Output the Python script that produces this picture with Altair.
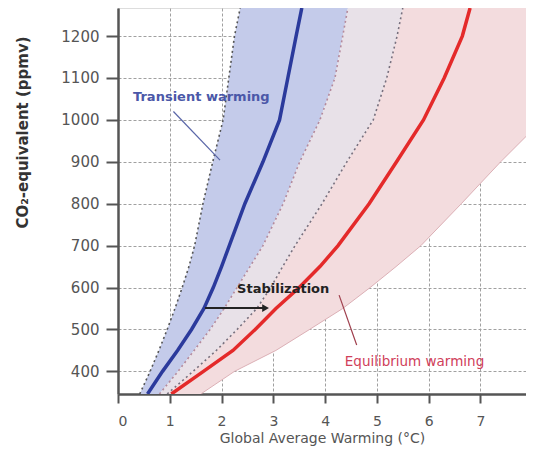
import altair as alt
import pandas as pd

# CO2-equivalent concentration levels (ppmv) at which the curves were read
ppm = [346, 400, 450, 500, 550, 600, 650, 700, 800, 900, 1000, 1100, 1200, 1267]

# Warming (deg C)
transient_lower = [0.42, 0.62, 0.79, 0.95, 1.10, 1.24, 1.37, 1.48, 1.64, 1.83, 2.03, 2.14, 2.25, 2.36]
transient_central = [0.57, 0.86, 1.15, 1.42, 1.66, 1.84, 2.00, 2.15, 2.45, 2.80, 3.12, 3.28, 3.44, 3.55]
equilibrium_lower = [0.80, 1.16, 1.47, 1.78, 2.05, 2.30, 2.55, 2.80, 3.19, 3.51, 3.90, 4.19, 4.34, 4.44]
transient_upper = [0.95, 1.45, 1.90, 2.30, 2.68, 2.95, 3.18, 3.42, 3.94, 4.42, 4.93, 5.19, 5.39, 5.50]
equilibrium_central = [1.03, 1.65, 2.22, 2.65, 3.05, 3.50, 3.90, 4.25, 4.85, 5.38, 5.90, 6.30, 6.65, 6.80]
equilibrium_upper = [1.60, 2.25, 3.05, 3.70, 4.34, 4.87, 5.37, 5.85, 6.63, 7.39, 8.20, 8.90, 9.60, 10.10]

x_ticks = [0, 1, 2, 3, 4, 5, 6, 7]
y_ticks = [400, 500, 600, 700, 800, 900, 1000, 1100, 1200]

# annotation content
stab_ppm = [551]
stab_from = [1.68]
stab_to = [2.85]
transient_label = ["Transient warming"]
transient_label_pos = [0.29, 1055]
transient_leader = [[1.07, 1020], [1.97, 904]]
stab_label = ["Stabilization"]
stab_label_pos = [2.3, 597]
equil_label = ["Equilibrium warming"]
equil_label_pos = [4.38, 422]
equil_leader = [[4.61, 463], [4.27, 582]]

FONT = "DejaVu Sans"

df = pd.DataFrame({
    "ppm": ppm,
    "tl": transient_lower,
    "tc": transient_central,
    "el": equilibrium_lower,
    "tu": transient_upper,
    "ec": equilibrium_central,
    "eu": equilibrium_upper,
})

xs = alt.Scale(domain=[0, 7.88], nice=False, zero=False)
ys = alt.Scale(domain=[346, 1267], nice=False, zero=False)

xaxis = alt.Axis(values=x_ticks, title="Global Average Warming (°C)", format="d",
                 grid=True, gridColor="#a0a0a0", gridDash=[3, 2], gridWidth=1,
                 domainColor="#555", domainWidth=2.5, tickColor="#555", tickWidth=2,
                 tickSize=9, labelPadding=11, labelFont=FONT, labelFontSize=14,
                 labelColor="#555", titleFont=FONT, titleFontSize=14, titleFontWeight="normal",
                 titleColor="#555", titlePadding=3)
yaxis = alt.Axis(values=y_ticks, title="CO₂-equivalent (ppmv)", format="d",
                 grid=True, gridColor="#a0a0a0", gridDash=[3, 2], gridWidth=1,
                 domainColor="#555", domainWidth=2.5, tickColor="#555", tickWidth=2,
                 tickSize=12, labelPadding=7, labelFont=FONT, labelFontSize=15,
                 labelColor="#555", titleFont=FONT, titleFontSize=15, titleFontWeight="bold",
                 titleColor="#333", titleAngle=270, titleX=-96, titleY=124,
                 titleAlign="center", titleBaseline="middle")

base = alt.Chart(df)

def band(lo, hi, color):
    return base.mark_area(orient="horizontal", color=color, opacity=1, clip=True).encode(
        y=alt.Y("ppm:Q", scale=ys, axis=yaxis),
        x=alt.X(f"{lo}:Q", scale=xs, axis=xaxis),
        x2=alt.X2(f"{hi}:Q"),
    )

blue_band = band("tl", "el", "#c4cbea")
overlap_band = band("el", "tu", "#e8e1e8")
pink_band = band("tu", "eu", "#f3dcde")

def curve(field, color, width, dash=None, opacity=1.0):
    kw = dict(color=color, strokeWidth=width, clip=True, opacity=opacity)
    if dash:
        kw["strokeDash"] = dash
    return base.mark_line(**kw).encode(
        x=alt.X(f"{field}:Q", scale=xs),
        y=alt.Y("ppm:Q", scale=ys),
        order="ppm:Q",
    )

l_tl = curve("tl", "#555", 1.6, [2, 3])
l_el = curve("el", "#b48a9c", 1.6, [2, 3])
l_tu = curve("tu", "#77707e", 1.6, [2, 3])
l_eu = curve("eu", "#dcb0b6", 1.0)
l_tc = curve("tc", "#2b3a9c", 3.5)
l_ec = curve("ec", "#e42a2a", 3.5)

arrow_df = pd.DataFrame({"y": stab_ppm, "x1": stab_from, "x2": stab_to})
arrow_line = alt.Chart(arrow_df).mark_rule(color="#222", strokeWidth=2).encode(
    x=alt.X("x1:Q", scale=xs), x2="x2:Q", y=alt.Y("y:Q", scale=ys))
arrow_head = alt.Chart(arrow_df).mark_point(shape="triangle-right", filled=True,
                                            color="#222", size=60, opacity=1).encode(
    x=alt.X("x2:Q", scale=xs), y=alt.Y("y:Q", scale=ys))

def leader(pts, color):
    d = pd.DataFrame({"x": [p[0] for p in pts], "y": [p[1] for p in pts], "o": [0, 1]})
    return alt.Chart(d).mark_line(color=color, strokeWidth=1.2).encode(
        x=alt.X("x:Q", scale=xs), y=alt.Y("y:Q", scale=ys), order="o:Q")

lead_t = leader(transient_leader, "#5a66a8")
lead_e = leader(equil_leader, "#a0404e")

def label(txt, pos, color, weight, size):
    d = pd.DataFrame({"t": txt, "x": [pos[0]], "y": [pos[1]]})
    return alt.Chart(d).mark_text(align="left", baseline="middle", font=FONT,
                                  fontSize=size, fontWeight=weight, color=color).encode(
        x=alt.X("x:Q", scale=xs), y=alt.Y("y:Q", scale=ys), text="t:N")

t_lab = label(transient_label, transient_label_pos, "#4b58a8", "bold", 13)
s_lab = label(stab_label, stab_label_pos, "#222", "bold", 13)
e_lab = label(equil_label, equil_label_pos, "#d0405a", "normal", 13.5)

chart = alt.layer(
    blue_band, overlap_band, pink_band,
    l_eu, l_tl, l_el, l_tu, l_tc, l_ec,
    lead_t, lead_e, arrow_line, arrow_head,
    t_lab, s_lab, e_lab,
).properties(
    width=408, height=386,
    autosize=alt.AutoSizeParams(type="none"),
    padding={"left": 110, "top": 0, "right": 0, "bottom": 60},
).configure_view(stroke=None).configure(background="white")

chart.save("out.html", embed_options={"renderer": "svg", "actions": False})
